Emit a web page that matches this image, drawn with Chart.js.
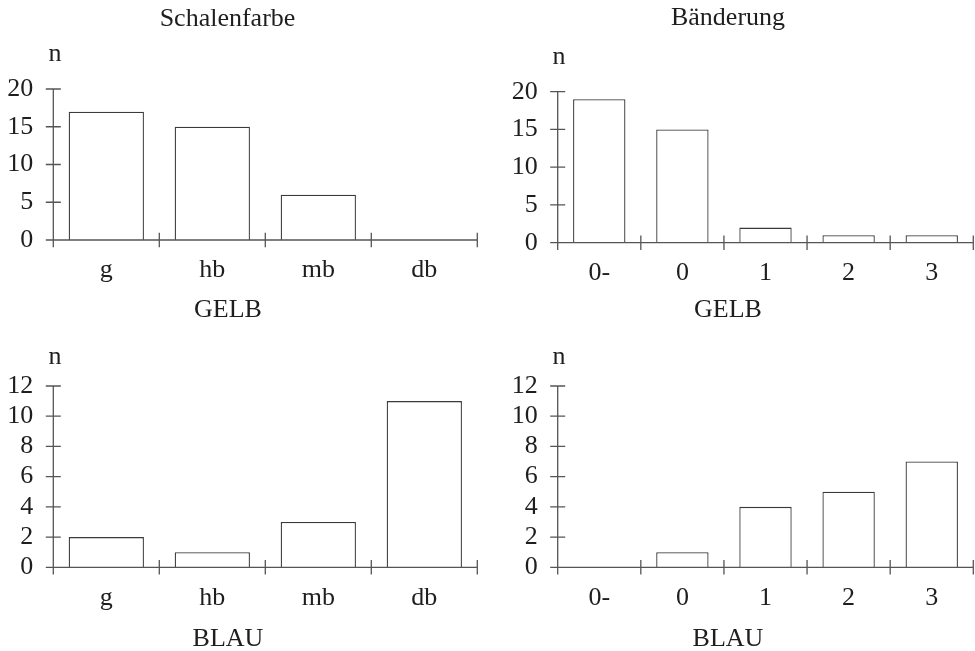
<!DOCTYPE html>
<html>
<head>
<meta charset="utf-8">
<script src="https://cdn.jsdelivr.net/npm/chart.js@4/dist/chart.umd.min.js"></script>
<style>
  html, body { margin: 0; padding: 0; background: #fff; }
  #page { position: relative; width: 975px; height: 651px; overflow: hidden; }
  canvas { position: absolute; left: 0; top: 0; }
  .lbl { position: absolute; font-family: "Liberation Serif", serif; font-size: 26px; line-height: 26px;
         color: #1e1e1e; white-space: nowrap; transform: translateX(-50%); }
</style>
</head>
<body>
<div id="page"></div>
<script>
// Daten
const shellCats = ['g', 'hb', 'mb', 'db'];
const bandCats = ['0-', '0', '1', '2', '3'];
const shellGelb = [17, 15, 6, 0];
const bandGelb = [19, 15, 2, 1, 1];
const shellBlau = [2, 1, 3, 11];
const bandBlau = [0, 1, 4, 5, 7];
const yTicksGelb = [0, 5, 10, 15, 20];
const yTicksBlau = [0, 2, 4, 6, 8, 10, 12];

const W = 975, H = 651;
const FONT = 'Liberation Serif';
const INK = '#1e1e1e';
const AXIS = '#555';

// Achsen mit durchgehenden Strichen
const crossTicks = {
    id: 'crossTicks',
    afterDatasetsDraw(chart) {
        const { ctx, chartArea: a, scales: { x, y } } = chart;
        ctx.save();
        ctx.strokeStyle = AXIS;
        ctx.lineWidth = 1.3;
        ctx.beginPath();
        ctx.moveTo(a.left, a.top); ctx.lineTo(a.left, a.bottom);
        ctx.moveTo(a.left, a.bottom); ctx.lineTo(a.right, a.bottom);
        y.ticks.forEach((t, i) => {
            const py = y.getPixelForTick(i);
            ctx.moveTo(a.left - 7.5, py); ctx.lineTo(a.left + 7.5, py);
        });
        for (let i = 0; i <= x.ticks.length; i++) {
            const px = x.getPixelForValue(i - 0.5);
            ctx.moveTo(px, a.bottom - 7.3); ctx.lineTo(px, a.bottom + 7.3);
        }
        ctx.stroke();
        ctx.restore();
    }
};

function makePanel(labels, values, yTicks, area, barPct) {
    const cv = document.createElement('canvas');
    cv.width = W; cv.height = H;
    cv.style.width = W + 'px'; cv.style.height = H + 'px';
    document.getElementById('page').appendChild(cv);
    const yW = 60, xH = 60;
    new Chart(cv, {
        type: 'bar',
        data: {
            labels: labels,
            datasets: [{
                data: values,
                backgroundColor: '#fff',
                borderColor: '#3a3a3a',
                borderWidth: 1.3,
                categoryPercentage: 1,
                barPercentage: barPct
            }]
        },
        options: {
            responsive: false,
            animation: false,
            events: [],
            layout: {
                padding: {
                    left: area.left - yW,
                    right: W - area.right,
                    top: area.top,
                    bottom: H - area.bottom - xH
                }
            },
            plugins: { legend: { display: false }, tooltip: { enabled: false } },
            scales: {
                x: {
                    grid: { display: false, drawTicks: false },
                    border: { display: false },
                    ticks: { color: INK, font: { family: FONT, size: 26 }, padding: 15, maxRotation: 0, autoSkip: false },
                    afterFit: s => { s.height = xH; }
                },
                y: {
                    min: yTicks[0],
                    max: yTicks[yTicks.length - 1],
                    grid: { display: false, drawTicks: false },
                    border: { display: false },
                    ticks: { color: INK, font: { family: FONT, size: 26 }, padding: 20, autoSkip: false },
                    afterBuildTicks: s => { s.ticks = yTicks.map(v => ({ value: v })); },
                    afterFit: s => { s.width = yW; }
                }
            }
        },
        plugins: [crossTicks]
    });
}

makePanel(shellCats, shellGelb, yTicksGelb, { left: 53.3, right: 477.3, top: 89, bottom: 240 }, 0.71);
makePanel(bandCats, bandGelb, yTicksGelb, { left: 557.7, right: 973.3, top: 91.7, bottom: 242.7 }, 0.63);
makePanel(shellCats, shellBlau, yTicksBlau, { left: 53.3, right: 477.3, top: 386, bottom: 567.3 }, 0.71);
makePanel(bandCats, bandBlau, yTicksBlau, { left: 557.7, right: 973.3, top: 386, bottom: 567.3 }, 0.63);

// Beschriftungen: Mitte x, Grundlinie y
const texts = [
    ['Schalenfarbe', 227.5, 26.7], ['Bänderung', 728, 26],
    ['n', 55, 61.7], ['n', 559, 65], ['n', 55, 365], ['n', 559, 365],
    ['GELB', 228, 318], ['GELB', 728, 318],
    ['BLAU', 228, 647], ['BLAU', 728, 647]
];
texts.forEach(([t, x, base]) => {
    const d = document.createElement('div');
    d.className = 'lbl';
    d.textContent = t;
    d.style.left = x + 'px';
    d.style.top = (base - 21.8) + 'px';
    document.getElementById('page').appendChild(d);
});
</script>
</body>
</html>
